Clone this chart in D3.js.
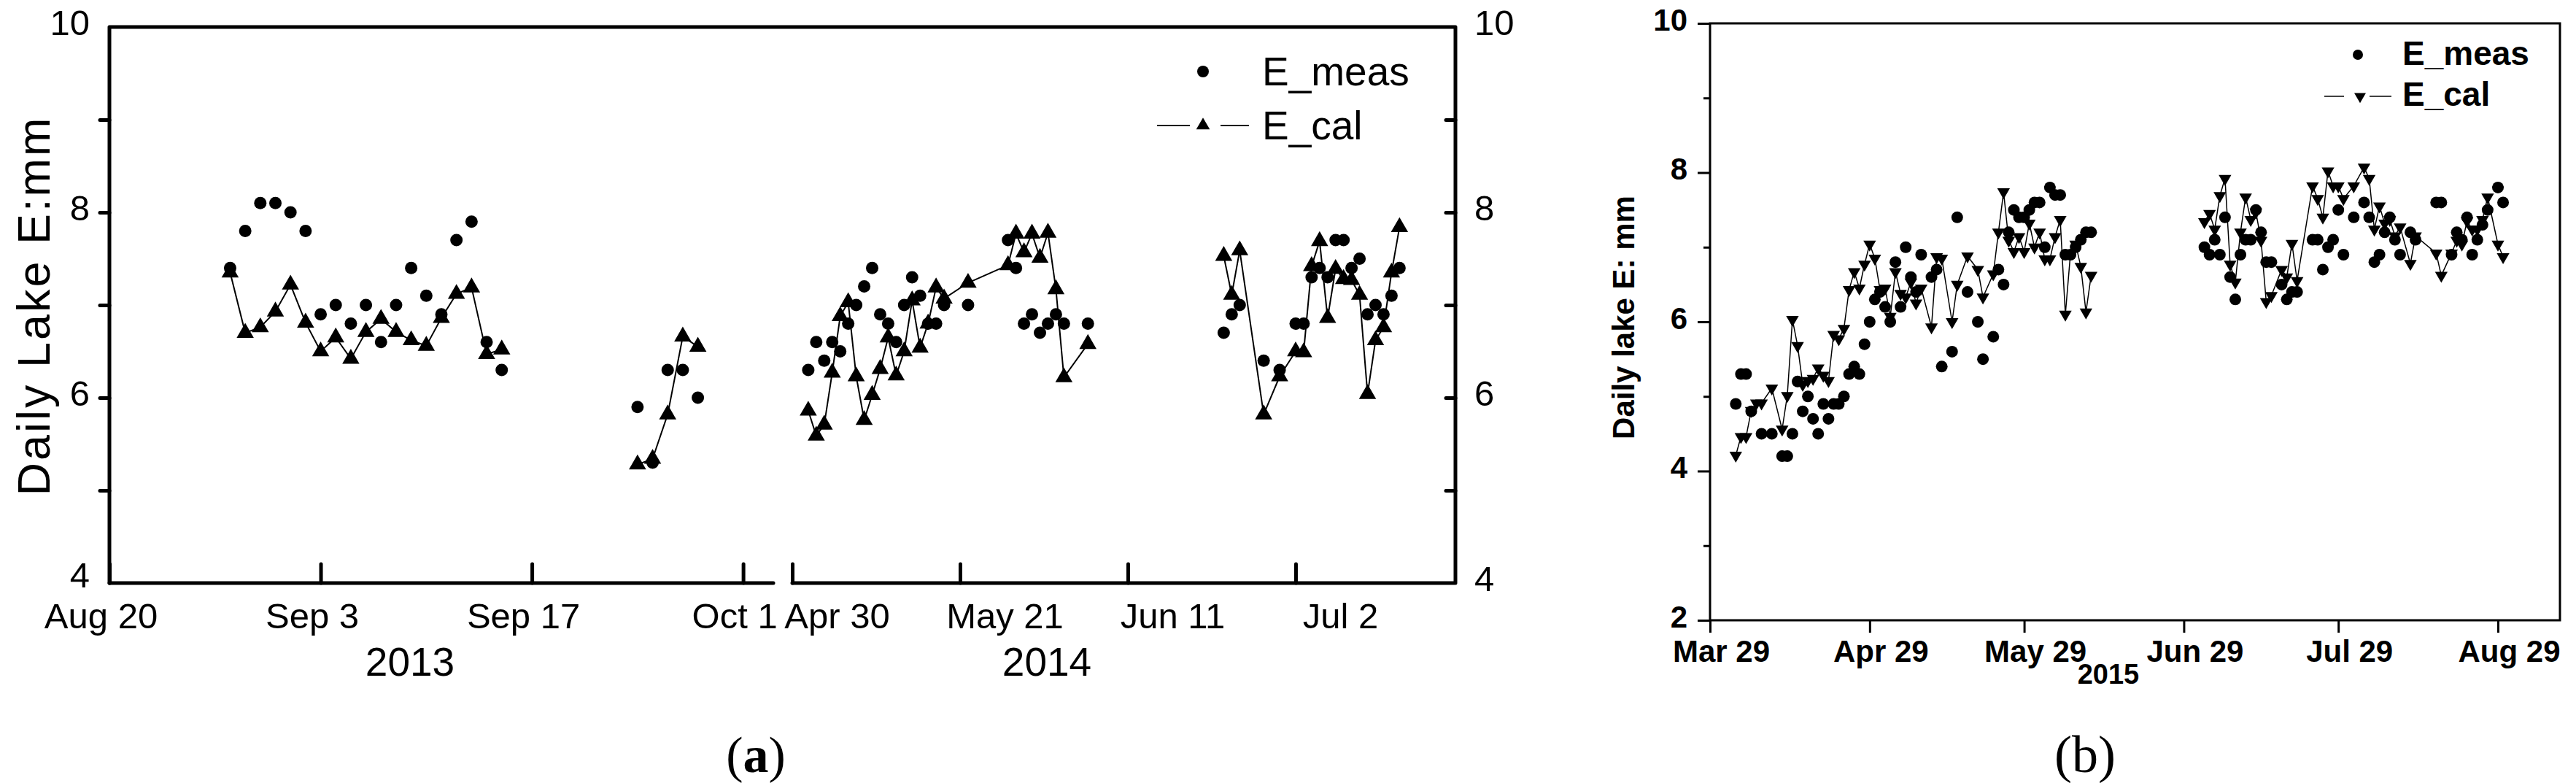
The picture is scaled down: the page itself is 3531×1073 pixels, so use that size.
<!DOCTYPE html>
<html>
<head>
<meta charset="utf-8">
<script src="https://cdn.jsdelivr.net/npm/d3@7"></script>
<style>
    body { margin: 0; background: #ffffff; }
    svg { display: block; }
    text { font-family: "Liberation Sans", Arial, sans-serif; fill: #000; }
</style>
</head>
<body>
<div id="chart"></div>
<script>
// ---- Data: panel (a) 2013 ----
var dates2013 = ['2013-08-28', '2013-08-29', '2013-08-30', '2013-08-31', '2013-09-01', '2013-09-02',
    '2013-09-03', '2013-09-04', '2013-09-05', '2013-09-06', '2013-09-07', '2013-09-08', '2013-09-09',
    '2013-09-10', '2013-09-11', '2013-09-12', '2013-09-13', '2013-09-14', '2013-09-15',
    '2013-09-24', '2013-09-25', '2013-09-26', '2013-09-27', '2013-09-28'];
var meas2013 = [7.4, 7.8, 8.1, 8.1, 8.0, 7.8, 6.9, 7.0, 6.8, 7.0, 6.6, 7.0, 7.4, 7.1, 6.9, 7.7, 7.9, 6.6, 6.3,
    5.9, 5.3, 6.3, 6.3, 6.0];
var cal2013 = [7.35, 6.70, 6.76, 6.93, 7.22, 6.81, 6.50, 6.65, 6.42, 6.71, 6.85, 6.71, 6.62, 6.56, 6.86, 7.12,
    7.19, 6.47, 6.52, 5.28, 5.34, 5.82, 6.66, 6.55];
var breaks2013 = ['2013-09-24'];

// ---- Data: panel (a) 2014 ----
var dates2014 = ['2014-05-02', '2014-05-03', '2014-05-04', '2014-05-05', '2014-05-06', '2014-05-07',
    '2014-05-08', '2014-05-09', '2014-05-10', '2014-05-11', '2014-05-12', '2014-05-13', '2014-05-14',
    '2014-05-15', '2014-05-16', '2014-05-17', '2014-05-18', '2014-05-19', '2014-05-22',
    '2014-05-27', '2014-05-28', '2014-05-29', '2014-05-30', '2014-05-31', '2014-06-01', '2014-06-02',
    '2014-06-03', '2014-06-06',
    '2014-06-23', '2014-06-24', '2014-06-25', '2014-06-28', '2014-06-30', '2014-07-02', '2014-07-03',
    '2014-07-04', '2014-07-05', '2014-07-06', '2014-07-07', '2014-07-08', '2014-07-09', '2014-07-10',
    '2014-07-11', '2014-07-12', '2014-07-13', '2014-07-14', '2014-07-15'];
var meas2014 = [6.3, 6.6, 6.4, 6.6, 6.5, 6.8, 7.0, 7.2, 7.4, 6.9, 6.8, 6.6, 7.0, 7.3, 7.1, 6.8, 6.8, 7.0, 7.0,
    7.7, 7.4, 6.8, 6.9, 6.7, 6.8, 6.9, 6.8, 6.8,
    6.7, 6.9, 7.0, 6.4, 6.3, 6.8, 6.8, 7.3, 7.4, 7.3, 7.7, 7.7, 7.4, 7.5, 6.9, 7.0, 6.9, 7.1, 7.4];
var cal2014 = [5.86, 5.59, 5.71, 6.27, 6.88, 7.03, 6.23, 5.76, 6.03, 6.31, 6.65, 6.24, 6.50, 7.05, 6.54, 6.80,
    7.19, 7.07, 7.24, 7.43, 7.77, 7.57, 7.77, 7.51, 7.78, 7.17, 6.22, 6.58,
    7.53, 7.11, 7.59, 5.82, 6.23, 6.50, 6.49, 7.42, 7.69, 6.86, 7.39, 7.28, 7.27, 7.11, 6.04, 6.62, 6.76,
    7.35, 7.84];
var breaks2014 = ['2014-06-23'];

// ---- Data: panel (b) 2015 ----
var dates2015 = ['2015-04-03', '2015-04-04', '2015-04-05', '2015-04-06', '2015-04-07', '2015-04-08',
    '2015-04-10', '2015-04-12', '2015-04-13', '2015-04-14', '2015-04-15', '2015-04-16', '2015-04-17',
    '2015-04-18', '2015-04-19', '2015-04-20', '2015-04-21', '2015-04-22', '2015-04-23', '2015-04-24',
    '2015-04-25', '2015-04-26', '2015-04-27', '2015-04-28', '2015-04-29', '2015-04-30', '2015-05-01',
    '2015-05-02', '2015-05-03', '2015-05-04', '2015-05-05', '2015-05-06', '2015-05-07', '2015-05-08',
    '2015-05-09', '2015-05-11', '2015-05-12', '2015-05-13', '2015-05-15', '2015-05-16', '2015-05-18',
    '2015-05-20', '2015-05-21', '2015-05-23', '2015-05-24', '2015-05-25', '2015-05-26', '2015-05-27',
    '2015-05-28', '2015-05-29', '2015-05-30', '2015-05-31', '2015-06-01', '2015-06-02', '2015-06-03',
    '2015-06-04', '2015-06-05', '2015-06-06', '2015-06-07', '2015-06-08', '2015-06-09', '2015-06-10',
    '2015-06-11',
    '2015-07-03', '2015-07-04', '2015-07-05', '2015-07-06', '2015-07-07', '2015-07-08', '2015-07-09',
    '2015-07-10', '2015-07-11', '2015-07-12', '2015-07-13', '2015-07-14', '2015-07-15', '2015-07-16',
    '2015-07-18', '2015-07-19', '2015-07-20', '2015-07-21', '2015-07-24', '2015-07-25', '2015-07-26',
    '2015-07-27', '2015-07-28', '2015-07-29', '2015-07-30', '2015-08-01', '2015-08-03', '2015-08-04',
    '2015-08-05', '2015-08-06', '2015-08-07', '2015-08-08', '2015-08-09', '2015-08-10', '2015-08-12',
    '2015-08-13', '2015-08-17', '2015-08-18', '2015-08-20', '2015-08-21', '2015-08-22', '2015-08-23',
    '2015-08-24', '2015-08-25', '2015-08-26', '2015-08-27', '2015-08-29', '2015-08-30'];
var meas2015 = [4.9, 5.3, 5.3, 4.8, null, 4.5, 4.5, 4.2, 4.2, 4.5, 5.2, 4.8, 5.0, 4.7, 4.5, 4.9, 4.7, 4.9,
    4.9, 5.0, 5.3, 5.4, 5.3, 5.7, 6.0, 6.3, 6.4, 6.2, 6.0, 6.8, 6.2, 7.0, 6.6, 6.4, 6.9, 6.6, 6.7, 5.4, 5.6,
    7.4, 6.4, 6.0, 5.5, 5.8, 6.7, 6.5, 7.2, 7.5, 7.4, 7.4, 7.5, 7.6, 7.6, 7.0, 7.8, 7.7, 7.7, 6.9, 6.9, 7.0,
    7.1, 7.2, 7.2,
    7.0, 6.9, 7.1, 6.9, 7.4, 6.6, 6.3, 6.9, 7.1, 7.1, 7.5, 7.2, 6.8, 6.8, 6.5, 6.3, 6.4, 6.4, 7.1, 7.1, 6.7,
    7.0, 7.1, 7.5, 6.9, 7.4, 7.6, 7.4, 6.8, 6.9, 7.2, 7.4, 7.1, 6.9, 7.2, 7.1, 7.6, 7.6, 6.9, 7.2, 7.1, 7.4,
    6.9, 7.1, 7.3, 7.5, 7.8, 7.6];
var cal2015 = [4.21, 4.46, 4.46, 4.81, 4.91, 4.91, 5.11, 4.56, 5.01, 6.03, 5.68, 5.16, 5.21, 5.24, 5.38, 5.28,
    5.21, 5.83, 5.77, 5.91, 6.43, 6.67, 6.45, 6.77, 7.04, 6.85, 6.43, 6.45, 6.07, 6.67, 6.38, 6.33, 6.53,
    6.25, 6.45, 5.93, 6.87, 6.85, 6.00, 6.50, 6.88, 6.70, 6.33, 6.64, 7.20, 7.74, 7.09, 6.94, 7.14, 6.94,
    7.32, 7.00, 7.20, 6.84, 6.84, 7.14, 7.37, 6.10, 6.92, 7.04, 6.74, 6.13, 6.62,
    7.34, 7.45, 7.24, 7.69, 7.92, 6.77, 6.53, 7.20, 7.67, 7.37, 7.47, 7.09, 6.27, 6.35, 6.70, 6.60, 7.05,
    6.55, 7.82, 7.65, 7.40, 8.02, 7.82, 7.82, 7.65, 7.82, 8.07, 7.92, 7.24, 7.55, 7.32, 7.37, 7.15, 7.27,
    6.78, 7.15, 6.92, 6.62, 6.92, 7.09, 7.04, 7.35, 7.24, 7.24, 7.37, 7.67, 7.04, 6.87];
var breaks2015 = ['2015-07-03'];

// ---- Tick values ----
var yTicksA = [4, 5, 6, 7, 8, 9, 10];
var yTicksB = [2, 3, 4, 5, 6, 7, 8, 9, 10];
var xTicks2013 = ['2013-08-20', '2013-09-03', '2013-09-17', '2013-10-01'];
var xTicks2014 = ['2014-04-30', '2014-05-21', '2014-06-11', '2014-07-02'];
var xTicks2015 = ['2015-03-29', '2015-04-29', '2015-05-29', '2015-06-29', '2015-07-29', '2015-08-29'];

var parseDate = d3.utcParse('%Y-%m-%d');
var fmtDate = d3.utcFormat('%b %-d');

function buildRows(dates, meas, cal, breaks) {
    var breakTimes = breaks.map(parseDate);
    return dates.map(function(d, i) {
        var t = parseDate(d);
        return {
            date: t,
            meas: meas[i],
            cal: cal[i],
            run: breakTimes.filter(function(b) { return b <= t; }).length
        };
    });
}

var rows2013 = buildRows(dates2013, meas2013, cal2013, breaks2013);
var rows2014 = buildRows(dates2014, meas2014, cal2014, breaks2014);
var rows2015 = buildRows(dates2015, meas2015, cal2015, breaks2015);

// Set up the svg area
var svgWidth = 3531;
var svgHeight = 1073;

var svg = d3.select('#chart')
    .append('svg')
    .attr('width', svgWidth)
    .attr('height', svgHeight);

svg.append('rect')
    .attr('width', svgWidth)
    .attr('height', svgHeight)
    .attr('fill', '#fff');

// Draw measured dots, calculated triangles and line for one period
function drawSeries(g, rows, xScale, yScale, opt) {
    var line = d3.line()
        .x((d) => xScale(d.date))
        .y((d) => yScale(d.cal));

    d3.groups(rows, (d) => d.run).forEach(function(run) {
        g.append('path')
            .attr('d', line(run[1]))
            .attr('fill', 'none')
            .attr('stroke', '#000')
            .attr('stroke-width', opt.lineWidth);
    });

    g.selectAll(null)
        .data(rows.filter((d) => d.meas !== null))
        .enter()
        .append('circle')
        .attr('cx', (d) => xScale(d.date))
        .attr('cy', (d) => yScale(d.meas))
        .attr('r', opt.dotR)
        .attr('fill', '#000');

    g.selectAll(null)
        .data(rows)
        .enter()
        .append('path')
        .attr('d', d3.symbol(d3.symbolTriangle, opt.triSize))
        .attr('transform', (d) => `translate(${xScale(d.date)}, ${yScale(d.cal)}) rotate(${opt.triRotate})`)
        .attr('fill', '#000');
}

function styleAxis(sel, width, fontSize, weight) {
    sel.select('.domain').remove();
    sel.selectAll('.tick line')
        .attr('stroke', '#000')
        .attr('stroke-width', width)
        .attr('stroke-linecap', 'round');
    sel.selectAll('.tick text')
        .attr('fill', '#000')
        .style('font-family', '"Liberation Sans", Arial, sans-serif')
        .style('font-size', fontSize + 'px')
        .style('font-weight', weight);
}

// ================= Panel (a) =================
var yA = d3.scaleLinear().domain([4, 10]).range([799, 37]);
var x2013 = d3.scaleUtc()
    .domain([parseDate('2013-08-20'), parseDate('2013-10-03')])
    .range([150, 1060]);
var x2014 = d3.scaleUtc()
    .domain([parseDate('2014-04-30'), parseDate('2014-07-22')])
    .range([1086, 1995]);

var gA = svg.append('g');
var thickA = 5;

// Frame: left, top, right and the broken bottom axis
var leftA = x2013.range()[0];
var rightA = x2014.range()[1];
var topA = yA.range()[1];
var botA = yA.range()[0];

gA.append('path')
    .attr('d', `M${leftA},${botA} L${leftA},${topA} L${rightA},${topA} L${rightA},${botA} L${x2014.range()[0]},${botA}`)
    .attr('fill', 'none')
    .attr('stroke', '#000')
    .attr('stroke-width', thickA)
    .attr('stroke-linejoin', 'round')
    .attr('stroke-linecap', 'round');

gA.append('line')
    .attr('x1', leftA).attr('x2', x2013.range()[1])
    .attr('y1', botA).attr('y2', botA)
    .attr('stroke', '#000')
    .attr('stroke-width', thickA)
    .attr('stroke-linecap', 'round');

// Left y axis (ticks outward)
var leftAxisA = gA.append('g')
    .attr('transform', `translate(${leftA}, 0)`)
    .call(d3.axisLeft(yA)
        .tickValues(yTicksA)
        .tickSize(13)
        .tickPadding(14)
        .tickFormat((d) => d % 2 === 0 ? d : ''));
styleAxis(leftAxisA, thickA, 49, 'normal');
leftAxisA.selectAll('.tick text').attr('y', (d) => d === 4 ? -10 : -5);
leftAxisA.selectAll('.tick').filter((d) => d === 4 || d === 10).select('line').remove();

// Right y axis (ticks inward)
var rightAxisA = gA.append('g')
    .attr('transform', `translate(${rightA}, 0)`)
    .call(d3.axisRight(yA)
        .tickValues(yTicksA)
        .tickSize(-13)
        .tickPadding(26)
        .tickFormat((d) => d % 2 === 0 ? d : ''));
styleAxis(rightAxisA, thickA, 49, 'normal');
rightAxisA.selectAll('.tick text').attr('y', -5);
rightAxisA.selectAll('.tick').filter((d) => d === 4 || d === 10).select('line').remove();

// Bottom x axes (ticks inward)
var axis2013 = gA.append('g')
    .attr('transform', `translate(0, ${botA})`)
    .call(d3.axisBottom(x2013)
        .tickValues(xTicks2013.map(parseDate))
        .tickSizeInner(-26)
        .tickSizeOuter(0)
        .tickPadding(27)
        .tickFormat(fmtDate));
styleAxis(axis2013, thickA, 49, 'normal');
axis2013.selectAll('.tick text').attr('dx', -12);

var axis2014 = gA.append('g')
    .attr('transform', `translate(0, ${botA})`)
    .call(d3.axisBottom(x2014)
        .tickValues(xTicks2014.map(parseDate))
        .tickSizeInner(-26)
        .tickSizeOuter(0)
        .tickPadding(27)
        .tickFormat(fmtDate));
styleAxis(axis2014, thickA, 49, 'normal');
axis2014.selectAll('.tick text').attr('dx', 61);

// Year labels
gA.append('text')
    .attr('x', 562).attr('y', 926)
    .attr('text-anchor', 'middle')
    .style('font-size', '55px')
    .text('2013');
gA.append('text')
    .attr('x', 1435).attr('y', 926)
    .attr('text-anchor', 'middle')
    .style('font-size', '55px')
    .text('2014');

// Y axis title
gA.append('text')
    .attr('transform', 'translate(46, 419) rotate(-90)')
    .attr('text-anchor', 'middle')
    .attr('dominant-baseline', 'central')
    .style('font-size', '63px')
    .style('letter-spacing', '3px')
    .text('Daily Lake E:mm');

// Series
var optA = { lineWidth: 2, dotR: 8.5, triSize: 240, triRotate: 0 };
drawSeries(gA.append('g'), rows2013, x2013, yA, optA);
drawSeries(gA.append('g'), rows2014, x2014, yA, optA);

// Legend
var legendA = gA.append('g');
legendA.append('circle').attr('cx', 1649).attr('cy', 98).attr('r', 8).attr('fill', '#000');
legendA.append('text')
    .attr('x', 1730).attr('y', 98)
    .attr('dominant-baseline', 'central')
    .style('font-size', '55px')
    .text('E_meas');
legendA.append('line').attr('x1', 1586).attr('x2', 1631).attr('y1', 172).attr('y2', 172)
    .attr('stroke', '#000').attr('stroke-width', 2);
legendA.append('line').attr('x1', 1673).attr('x2', 1712).attr('y1', 172).attr('y2', 172)
    .attr('stroke', '#000').attr('stroke-width', 2);
legendA.append('path')
    .attr('d', d3.symbol(d3.symbolTriangle, 150))
    .attr('transform', 'translate(1649, 172)')
    .attr('fill', '#000');
legendA.append('text')
    .attr('x', 1730).attr('y', 172)
    .attr('dominant-baseline', 'central')
    .style('font-size', '55px')
    .text('E_cal');

// Panel caption
var capA = svg.append('text')
    .attr('x', 1036).attr('y', 1058)
    .attr('text-anchor', 'middle')
    .style('font-family', '"Liberation Serif", "Times New Roman", serif')
    .style('font-size', '70px');
capA.append('tspan').text('(');
capA.append('tspan').style('font-weight', 'bold').text('a');
capA.append('tspan').text(')');

// ================= Panel (b) =================
var yB = d3.scaleLinear().domain([2, 10]).range([850, 32]);
var x2015 = d3.scaleUtc()
    .domain([parseDate('2015-03-29'), parseDate('2015-08-29')])
    .range([2344, 3424]);

var gB = svg.append('g');
var thickB = 3;
var leftB = x2015.range()[0];
var rightB = 3509;
var topB = yB.range()[1];
var botB = yB.range()[0];

gB.append('rect')
    .attr('x', leftB).attr('y', topB)
    .attr('width', rightB - leftB).attr('height', botB - topB)
    .attr('fill', 'none')
    .attr('stroke', '#000')
    .attr('stroke-width', thickB);

var leftAxisB = gB.append('g')
    .attr('transform', `translate(${leftB}, 0)`)
    .call(d3.axisLeft(yB)
        .tickValues(yTicksB)
        .tickSize(17)
        .tickPadding(14)
        .tickFormat((d) => d % 2 === 0 ? d : ''));
styleAxis(leftAxisB, thickB, 42, 'bold');
leftAxisB.selectAll('.tick line').attr('stroke-linecap', 'butt');
leftAxisB.selectAll('.tick').filter((d) => d % 2 === 1).select('line').attr('x2', -9);
leftAxisB.selectAll('.tick text').attr('y', -4);

var axis2015 = gB.append('g')
    .attr('transform', `translate(0, ${botB})`)
    .call(d3.axisBottom(x2015)
        .tickValues(xTicks2015.map(parseDate))
        .tickSizeInner(17)
        .tickSizeOuter(0)
        .tickPadding(10)
        .tickFormat(fmtDate));
styleAxis(axis2015, thickB, 42, 'bold');
axis2015.selectAll('.tick line').attr('stroke-linecap', 'butt');
axis2015.selectAll('.tick text').attr('dx', 15);

gB.append('text')
    .attr('x', 2890).attr('y', 937)
    .attr('text-anchor', 'middle')
    .style('font-size', '38px')
    .style('font-weight', 'bold')
    .text('2015');

gB.append('text')
    .attr('transform', 'translate(2225, 435) rotate(-90)')
    .attr('text-anchor', 'middle')
    .attr('dominant-baseline', 'central')
    .style('font-size', '42px')
    .style('font-weight', 'bold')
    .text('Daily lake E: mm');

drawSeries(gB.append('g'), rows2015, x2015, yB,
    { lineWidth: 1.5, dotR: 8, triSize: 130, triRotate: 180 });

var legendB = gB.append('g');
legendB.append('circle').attr('cx', 3232).attr('cy', 75).attr('r', 7).attr('fill', '#000');
legendB.append('text')
    .attr('x', 3293).attr('y', 89)
    .style('font-size', '46px')
    .style('font-weight', 'bold')
    .text('E_meas');
legendB.append('line').attr('x1', 3186).attr('x2', 3213).attr('y1', 132).attr('y2', 132)
    .attr('stroke', '#000').attr('stroke-width', 1.5);
legendB.append('line').attr('x1', 3248).attr('x2', 3278).attr('y1', 132).attr('y2', 132)
    .attr('stroke', '#000').attr('stroke-width', 1.5);
legendB.append('path')
    .attr('d', d3.symbol(d3.symbolTriangle, 110))
    .attr('transform', 'translate(3235, 132) rotate(180)')
    .attr('fill', '#000');
legendB.append('text')
    .attr('x', 3293).attr('y', 145)
    .style('font-size', '46px')
    .style('font-weight', 'bold')
    .text('E_cal');

svg.append('text')
    .attr('x', 2858).attr('y', 1058)
    .attr('text-anchor', 'middle')
    .style('font-family', '"Liberation Serif", "Times New Roman", serif')
    .style('font-size', '72px')
    .text('(b)');
</script>
</body>
</html>
